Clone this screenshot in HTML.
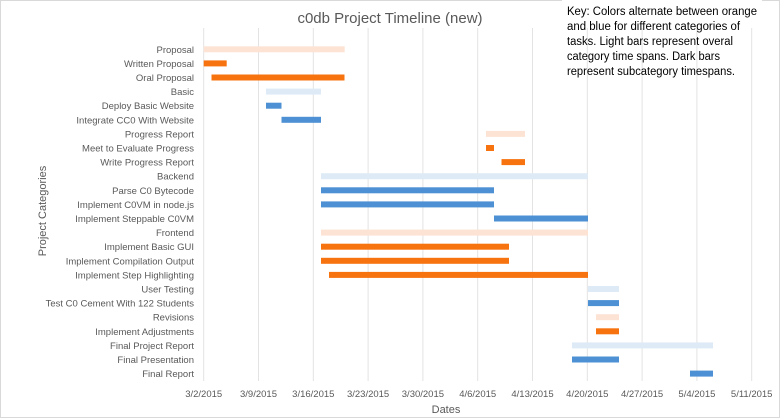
<!DOCTYPE html>
<html><head><meta charset="utf-8"><style>
body{margin:0;background:#fff}
svg{display:block;font-family:"Liberation Sans",sans-serif}
</style></head><body>
<svg width="780" height="418" viewBox="0 0 780 418" xmlns="http://www.w3.org/2000/svg">
<rect x="0.5" y="0.5" width="779" height="417" fill="#fff" stroke="#d9d9d9"/>
<g stroke="#e3e3e3" stroke-width="1">
<line x1="203.7" y1="28" x2="203.7" y2="381"/>
<line x1="258.5" y1="28" x2="258.5" y2="381"/>
<line x1="313.3" y1="28" x2="313.3" y2="381"/>
<line x1="368.1" y1="28" x2="368.1" y2="381"/>
<line x1="422.9" y1="28" x2="422.9" y2="381"/>
<line x1="477.7" y1="28" x2="477.7" y2="381"/>
<line x1="532.5" y1="28" x2="532.5" y2="381"/>
<line x1="587.3" y1="28" x2="587.3" y2="381"/>
<line x1="642.1" y1="28" x2="642.1" y2="381"/>
<line x1="696.9" y1="28" x2="696.9" y2="381"/>
<line x1="751.7" y1="28" x2="751.7" y2="381"/>
</g>
<g>
<rect x="203.7" y="46.3" width="141" height="6" fill="#fce3d4"/>
<rect x="203.7" y="60.4" width="23" height="6" fill="#f7730f"/>
<rect x="211.5" y="74.5" width="133" height="6" fill="#f7730f"/>
<rect x="266" y="88.6" width="55" height="6" fill="#deebf7"/>
<rect x="266" y="102.7" width="15.5" height="6" fill="#4d90d3"/>
<rect x="281.5" y="116.8" width="39.5" height="6" fill="#4d90d3"/>
<rect x="486" y="130.9" width="39" height="6" fill="#fce3d4"/>
<rect x="486" y="145" width="8" height="6" fill="#f7730f"/>
<rect x="501.5" y="159.1" width="23.5" height="6" fill="#f7730f"/>
<rect x="321" y="173.2" width="267" height="6" fill="#deebf7"/>
<rect x="321" y="187.3" width="173" height="6" fill="#4d90d3"/>
<rect x="321" y="201.4" width="173" height="6" fill="#4d90d3"/>
<rect x="494" y="215.5" width="94" height="6" fill="#4d90d3"/>
<rect x="321" y="229.6" width="267" height="6" fill="#fce3d4"/>
<rect x="321" y="243.7" width="188" height="6" fill="#f7730f"/>
<rect x="321" y="257.8" width="188" height="6" fill="#f7730f"/>
<rect x="329" y="271.9" width="259" height="6" fill="#f7730f"/>
<rect x="588" y="286" width="31" height="6" fill="#deebf7"/>
<rect x="588" y="300.1" width="31" height="6" fill="#4d90d3"/>
<rect x="596" y="314.2" width="23" height="6" fill="#fce3d4"/>
<rect x="596" y="328.3" width="23" height="6" fill="#f7730f"/>
<rect x="572" y="342.4" width="141" height="6" fill="#deebf7"/>
<rect x="572" y="356.5" width="47" height="6" fill="#4d90d3"/>
<rect x="690" y="370.6" width="23" height="6" fill="#4d90d3"/>
</g>
<g font-size="9.5" fill="#595959" text-anchor="end">
<text x="194" y="52.8">Proposal</text>
<text x="194" y="66.9">Written Proposal</text>
<text x="194" y="81">Oral Proposal</text>
<text x="194" y="95.1">Basic</text>
<text x="194" y="109.2">Deploy Basic Website</text>
<text x="194" y="123.3">Integrate CC0 With Website</text>
<text x="194" y="137.4">Progress Report</text>
<text x="194" y="151.5">Meet to Evaluate Progress</text>
<text x="194" y="165.6">Write Progress Report</text>
<text x="194" y="179.7">Backend</text>
<text x="194" y="193.8">Parse C0 Bytecode</text>
<text x="194" y="207.9">Implement C0VM in node.js</text>
<text x="194" y="222">Implement Steppable C0VM</text>
<text x="194" y="236.1">Frontend</text>
<text x="194" y="250.2">Implement Basic GUI</text>
<text x="194" y="264.3">Implement Compilation Output</text>
<text x="194" y="278.4">Implement Step Highlighting</text>
<text x="194" y="292.5">User Testing</text>
<text x="194" y="306.6">Test C0 Cement With 122 Students</text>
<text x="194" y="320.7">Revisions</text>
<text x="194" y="334.8">Implement Adjustments</text>
<text x="194" y="348.9">Final Project Report</text>
<text x="194" y="363">Final Presentation</text>
<text x="194" y="377.1">Final Report</text>
</g>
<g font-size="9.5" fill="#595959" text-anchor="middle">
<text x="203.7" y="397">3/2/2015</text>
<text x="258.5" y="397">3/9/2015</text>
<text x="313.3" y="397">3/16/2015</text>
<text x="368.1" y="397">3/23/2015</text>
<text x="422.9" y="397">3/30/2015</text>
<text x="477.7" y="397">4/6/2015</text>
<text x="532.5" y="397">4/13/2015</text>
<text x="587.3" y="397">4/20/2015</text>
<text x="642.1" y="397">4/27/2015</text>
<text x="696.9" y="397">5/4/2015</text>
<text x="751.7" y="397">5/11/2015</text>
</g>
<text x="446" y="413" font-size="11" fill="#595959" text-anchor="middle">Dates</text>
<text transform="translate(46,211) rotate(-90)" font-size="11" fill="#595959" text-anchor="middle">Project Categories</text>
<text x="390" y="23" font-size="15" fill="#595959" text-anchor="middle">c0db Project Timeline (new)</text>
<rect x="562" y="0" width="200" height="28" fill="#fff"/>
<g font-size="11.5" fill="#000">
<text x="567" y="15" textLength="190" lengthAdjust="spacingAndGlyphs">Key: Colors alternate between orange</text>
<text x="567" y="30" textLength="173" lengthAdjust="spacingAndGlyphs">and blue for different categories of</text>
<text x="567" y="45" textLength="166" lengthAdjust="spacingAndGlyphs">tasks. Light bars represent overal</text>
<text x="567" y="60" textLength="153" lengthAdjust="spacingAndGlyphs">category time spans. Dark bars</text>
<text x="567" y="75" textLength="168" lengthAdjust="spacingAndGlyphs">represent subcategory timespans.</text>
</g>
</svg>
</body></html>
